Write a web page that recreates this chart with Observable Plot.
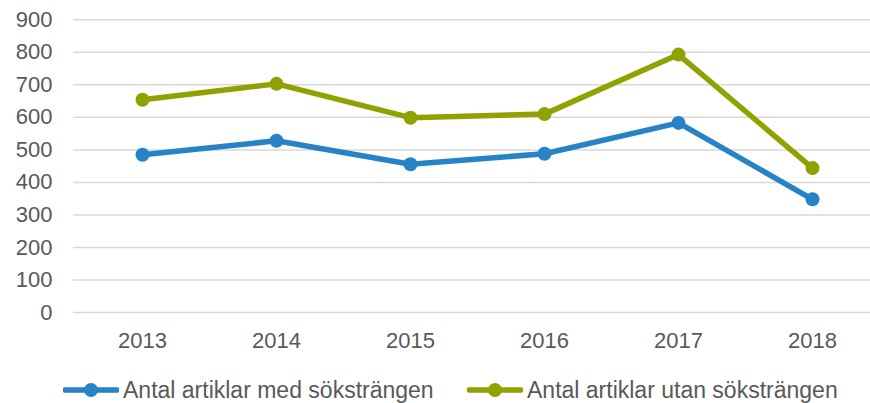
<!DOCTYPE html>
<html>
<head>
<meta charset="utf-8">
<script src="https://cdn.jsdelivr.net/npm/d3@7"></script>
<script src="https://cdn.jsdelivr.net/npm/@observablehq/plot@0.6"></script>
<style>
  html, body { margin: 0; padding: 0; background: #fff; overflow: hidden; }
  #wrap { position: relative; width: 870px; height: 403px; font-family: "Liberation Sans", Arial, sans-serif; }
  #legend { position: absolute; left: 0; top: 372px; width: 870px; height: 31px; }
  .item { position: absolute; top: 0; height: 36px; display: flex; align-items: center; color: #595959; font-size: 23px; white-space: nowrap; }
  .item svg { display: block; margin-right: 4px; }
</style>
</head>
<body>
<div id="wrap">
  <div id="chart"></div>
  <div id="legend"></div>
</div>
<script>
const years = ["2013", "2014", "2015", "2016", "2017", "2018"];
const seriesNames = ["Antal artiklar med söksträngen", "Antal artiklar utan söksträngen"];
const medValues = [485, 528, 456, 488, 583, 348];
const utanValues = [654, 703, 599, 610, 793, 444];
const colors = ["#2683C6", "#8FA200"];
const yTicks = [0, 100, 200, 300, 400, 500, 600, 700, 800, 900];

const data = [];
years.forEach((y, i) => {
  data.push({ year: y, value: medValues[i], series: seriesNames[0] });
  data.push({ year: y, value: utanValues[i], series: seriesNames[1] });
});

const W = 870, H = 372;
const chart = Plot.plot({
  width: W,
  height: H,
  marginLeft: 73,
  marginRight: 0,
  marginTop: 19.3,
  marginBottom: H - 312,
  style: { fontFamily: "Liberation Sans, Arial, sans-serif", fontSize: "22px", color: "#595959", background: "#fff", overflow: "visible" },
  x: { type: "point", domain: years, range: [141, 813], padding: 0 },
  y: { domain: [0, 900] },
  color: { domain: seriesNames, range: colors },
  marks: [
    Plot.ruleY(yTicks, { stroke: "#D9D9D9", strokeWidth: 1.5 }),
    Plot.axisY({ ticks: yTicks, tickSize: 0, tickPadding: 21, label: null, fontSize: 22, fill: "#595959" }),
    Plot.axisX({ tickSize: 0, tickPadding: 20, label: null, fontSize: 22, fill: "#595959" }),
    Plot.line(data, { x: "year", y: "value", z: "series", stroke: "series", strokeWidth: 5.5, strokeLinejoin: "round" }),
    Plot.dot(data, { x: "year", y: "value", fill: "series", r: 7, stroke: null })
  ]
});
document.getElementById("chart").appendChild(chart);

const legend = document.getElementById("legend");
const lefts = [63, 467];
seriesNames.forEach((name, i) => {
  const d = document.createElement("div");
  d.className = "item";
  d.style.left = lefts[i] + "px";
  d.innerHTML = `<svg width="56" height="16"><line x1="2" y1="8" x2="54" y2="8" stroke="${colors[i]}" stroke-width="5.5" stroke-linecap="round"/><circle cx="28" cy="8" r="7" fill="${colors[i]}"/></svg><span>${name}</span>`;
  legend.appendChild(d);
});
</script>
</body>
</html>
